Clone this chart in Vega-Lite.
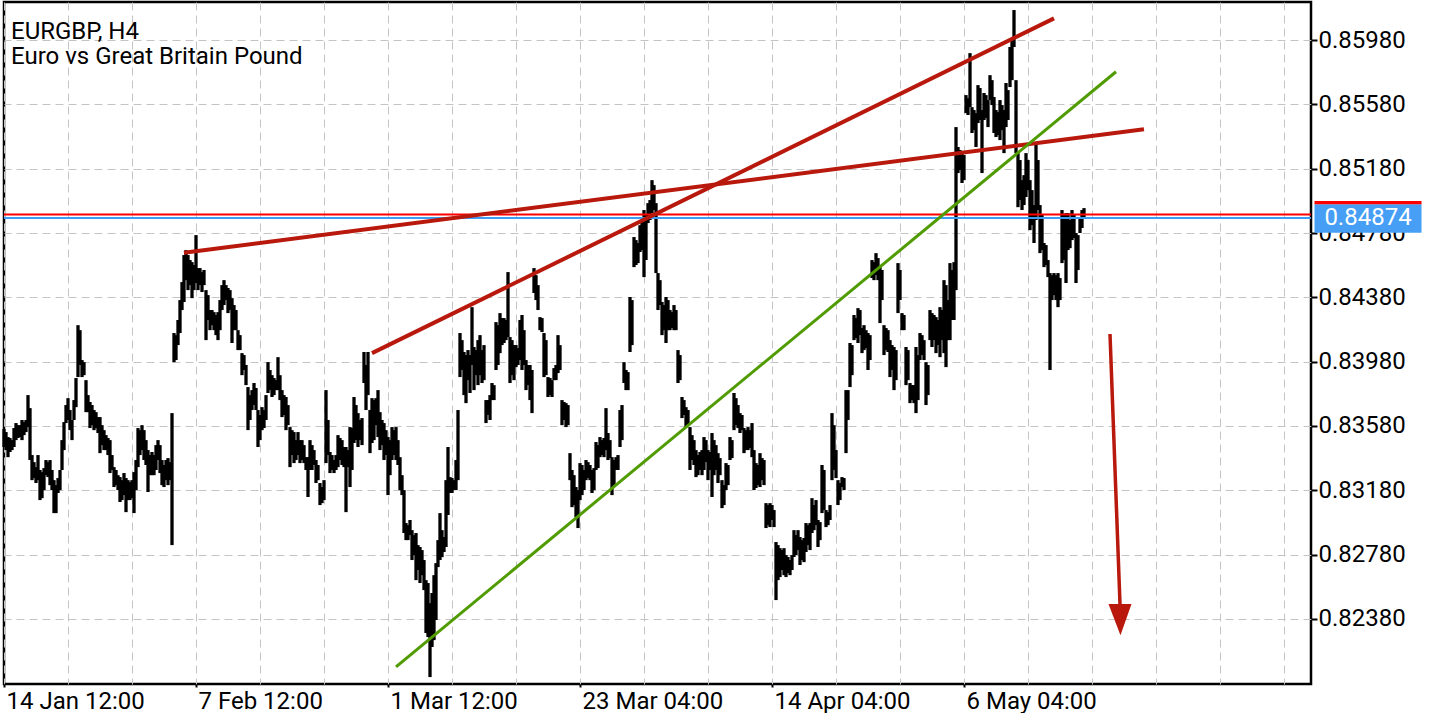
{
"$schema":"https://vega.github.io/schema/vega-lite/v6.json",
"width":1307,"height":682,
"padding":{"left":2,"top":2,"right":0,"bottom":0},
"background":"white",
"config":{"view":{"stroke":"black","strokeWidth":2.5},"font":"Roboto"},
"datasets":{
"bars":[
{"i":0,"h":0.83561,"l":0.83449},{"i":1,"h":0.83542,"l":0.8343},{"i":2,"h":0.83511,"l":0.83386},{"i":3,"h":0.83505,"l":0.83418},{"i":4,"h":0.83492,"l":0.8343},{"i":5,"h":0.83567,"l":0.83449},{"i":6,"h":0.83598,"l":0.83492},{"i":7,"h":0.83585,"l":0.83505},{"i":8,"h":0.83585,"l":0.83511},{"i":9,"h":0.83617,"l":0.83492},
{"i":10,"h":0.83604,"l":0.83523},{"i":11,"h":0.83617,"l":0.83542},{"i":12,"h":0.83772,"l":0.83573},{"i":13,"h":0.83691,"l":0.83368},{"i":14,"h":0.83399,"l":0.83243},{"i":15,"h":0.83355,"l":0.83256},{"i":16,"h":0.83324,"l":0.83225},{"i":17,"h":0.83399,"l":0.83243},{"i":18,"h":0.83306,"l":0.83119},{"i":19,"h":0.83293,"l":0.83131},
{"i":20,"h":0.83318,"l":0.83181},{"i":21,"h":0.83368,"l":0.83274},{"i":22,"h":0.83355,"l":0.83262},{"i":23,"h":0.83368,"l":0.83212},{"i":24,"h":0.83306,"l":0.83181},{"i":25,"h":0.83243,"l":0.83038},{"i":26,"h":0.83212,"l":0.83038},{"i":27,"h":0.83256,"l":0.83163},{"i":28,"h":0.83306,"l":0.83181},{"i":29,"h":0.83492,"l":0.83306},
{"i":30,"h":0.83604,"l":0.8343},{"i":31,"h":0.8371,"l":0.83598},{"i":32,"h":0.83753,"l":0.83617},{"i":33,"h":0.83679,"l":0.83554},{"i":34,"h":0.83617,"l":0.83492},{"i":35,"h":0.83741,"l":0.83617},{"i":36,"h":0.83878,"l":0.83697},{"i":37,"h":0.84207,"l":0.83884},{"i":38,"h":0.84176,"l":0.83959},{"i":39,"h":0.8399,"l":0.83884},
{"i":40,"h":0.83977,"l":0.83896},{"i":41,"h":0.83865,"l":0.83666},{"i":42,"h":0.83772,"l":0.83666},{"i":43,"h":0.83729,"l":0.83567},{"i":44,"h":0.8371,"l":0.83585},{"i":45,"h":0.83679,"l":0.83554},{"i":46,"h":0.83666,"l":0.83567},{"i":47,"h":0.83635,"l":0.83536},{"i":48,"h":0.83635,"l":0.83411},{"i":49,"h":0.83585,"l":0.83461},
{"i":50,"h":0.83554,"l":0.8343},{"i":51,"h":0.83523,"l":0.8343},{"i":52,"h":0.83505,"l":0.83399},{"i":53,"h":0.83492,"l":0.83287},{"i":54,"h":0.83399,"l":0.83306},{"i":55,"h":0.83324,"l":0.832},{"i":56,"h":0.83306,"l":0.83212},{"i":57,"h":0.83274,"l":0.83181},{"i":58,"h":0.83262,"l":0.83107},{"i":59,"h":0.83243,"l":0.83119},
{"i":60,"h":0.83287,"l":0.8315},{"i":61,"h":0.83256,"l":0.83044},{"i":62,"h":0.83243,"l":0.83119},{"i":63,"h":0.83231,"l":0.83119},{"i":64,"h":0.83243,"l":0.83131},{"i":65,"h":0.83293,"l":0.83038},{"i":66,"h":0.83368,"l":0.83181},{"i":67,"h":0.83567,"l":0.83324},{"i":68,"h":0.83554,"l":0.83399},{"i":69,"h":0.83585,"l":0.8343},
{"i":70,"h":0.83554,"l":0.83368},{"i":71,"h":0.83492,"l":0.83337},{"i":72,"h":0.8343,"l":0.83169},{"i":73,"h":0.83399,"l":0.83274},{"i":74,"h":0.83418,"l":0.83274},{"i":75,"h":0.83399,"l":0.83274},{"i":76,"h":0.83461,"l":0.83306},{"i":77,"h":0.83492,"l":0.83368},{"i":78,"h":0.83461,"l":0.83287},{"i":79,"h":0.83368,"l":0.83212},
{"i":80,"h":0.83337,"l":0.832},{"i":81,"h":0.83368,"l":0.83243},{"i":82,"h":0.8338,"l":0.83212},{"i":83,"h":0.83355,"l":0.83243},{"i":84,"h":0.8366,"l":0.82839},{"i":85,"h":0.84158,"l":0.83977},{"i":86,"h":0.84145,"l":0.8399},{"i":87,"h":0.84239,"l":0.84083},{"i":88,"h":0.84363,"l":0.84158},{"i":89,"h":0.84475,"l":0.84301},
{"i":90,"h":0.84643,"l":0.84351},{"i":91,"h":0.84674,"l":0.84487},{"i":92,"h":0.84643,"l":0.84425},{"i":93,"h":0.84612,"l":0.84456},{"i":94,"h":0.84599,"l":0.84375},{"i":95,"h":0.84581,"l":0.84425},{"i":96,"h":0.84767,"l":0.84469},{"i":97,"h":0.84562,"l":0.84425},{"i":98,"h":0.84562,"l":0.84456},{"i":99,"h":0.84537,"l":0.84413},
{"i":100,"h":0.8455,"l":0.84456},{"i":101,"h":0.84425,"l":0.84114},{"i":102,"h":0.84394,"l":0.84239},{"i":103,"h":0.84301,"l":0.84176},{"i":104,"h":0.84301,"l":0.84207},{"i":105,"h":0.84288,"l":0.84176},{"i":106,"h":0.8427,"l":0.84145},{"i":107,"h":0.84288,"l":0.84114},{"i":108,"h":0.84363,"l":0.84176},{"i":109,"h":0.84456,"l":0.84301},
{"i":110,"h":0.84487,"l":0.84332},{"i":111,"h":0.84456,"l":0.84363},{"i":112,"h":0.84438,"l":0.84282},{"i":113,"h":0.84425,"l":0.84301},{"i":114,"h":0.84375,"l":0.84096},{"i":115,"h":0.84332,"l":0.84176},{"i":116,"h":0.84301,"l":0.84176},{"i":117,"h":0.84176,"l":0.84052},{"i":118,"h":0.84145,"l":0.84052},{"i":119,"h":0.84033,"l":0.83896},
{"i":120,"h":0.84021,"l":0.83928},{"i":121,"h":0.83959,"l":0.83834},{"i":122,"h":0.83822,"l":0.83554},{"i":123,"h":0.83772,"l":0.83617},{"i":124,"h":0.83803,"l":0.83679},{"i":125,"h":0.83847,"l":0.8371},{"i":126,"h":0.83816,"l":0.83679},{"i":127,"h":0.83679,"l":0.83449},{"i":128,"h":0.83648,"l":0.83492},{"i":129,"h":0.83697,"l":0.83554},
{"i":130,"h":0.83679,"l":0.83567},{"i":131,"h":0.83772,"l":0.83617},{"i":132,"h":0.83977,"l":0.83785},{"i":133,"h":0.83928,"l":0.83803},{"i":134,"h":0.83896,"l":0.8376},{"i":135,"h":0.83878,"l":0.83772},{"i":136,"h":0.83865,"l":0.83803},{"i":137,"h":0.84008,"l":0.83803},{"i":138,"h":0.83896,"l":0.83741},{"i":139,"h":0.83803,"l":0.83635},
{"i":140,"h":0.83772,"l":0.83648},{"i":141,"h":0.8376,"l":0.83554},{"i":142,"h":0.8371,"l":0.83585},{"i":143,"h":0.83573,"l":0.83324},{"i":144,"h":0.83554,"l":0.83399},{"i":145,"h":0.83542,"l":0.83349},{"i":146,"h":0.83492,"l":0.83368},{"i":147,"h":0.83542,"l":0.83399},{"i":148,"h":0.83492,"l":0.83349},{"i":149,"h":0.83492,"l":0.83368},
{"i":150,"h":0.83461,"l":0.83349},{"i":151,"h":0.83386,"l":0.83306},{"i":152,"h":0.83386,"l":0.83138},{"i":153,"h":0.83492,"l":0.83306},{"i":154,"h":0.83461,"l":0.83306},{"i":155,"h":0.8343,"l":0.83337},{"i":156,"h":0.83368,"l":0.83225},{"i":157,"h":0.83337,"l":0.83243},{"i":158,"h":0.83225,"l":0.83088},{"i":159,"h":0.832,"l":0.831},
{"i":160,"h":0.83243,"l":0.83119},{"i":161,"h":0.83803,"l":0.83349},{"i":162,"h":0.83617,"l":0.83399},{"i":163,"h":0.83418,"l":0.83287},{"i":164,"h":0.83399,"l":0.83306},{"i":165,"h":0.83368,"l":0.83287},{"i":166,"h":0.83399,"l":0.83306},{"i":167,"h":0.83523,"l":0.83324},{"i":168,"h":0.83505,"l":0.83368},{"i":169,"h":0.83492,"l":0.83337},
{"i":170,"h":0.83449,"l":0.83324},{"i":171,"h":0.83449,"l":0.83044},{"i":172,"h":0.8343,"l":0.83324},{"i":173,"h":0.83573,"l":0.832},{"i":174,"h":0.83567,"l":0.83306},{"i":175,"h":0.8376,"l":0.83474},{"i":176,"h":0.8371,"l":0.83492},{"i":177,"h":0.8366,"l":0.83449},{"i":178,"h":0.83617,"l":0.83492},{"i":179,"h":0.83629,"l":0.83461},
{"i":180,"h":0.8404,"l":0.83847},{"i":181,"h":0.83959,"l":0.83679},{"i":182,"h":0.8404,"l":0.83772},{"i":183,"h":0.83679,"l":0.83411},{"i":184,"h":0.83753,"l":0.83474},{"i":185,"h":0.83741,"l":0.83492},{"i":186,"h":0.83753,"l":0.83585},{"i":187,"h":0.83803,"l":0.83511},{"i":188,"h":0.83666,"l":0.8343},{"i":189,"h":0.83617,"l":0.83461},
{"i":190,"h":0.83598,"l":0.83368},{"i":191,"h":0.83554,"l":0.83399},{"i":192,"h":0.83511,"l":0.8315},{"i":193,"h":0.83492,"l":0.83274},{"i":194,"h":0.83573,"l":0.83368},{"i":195,"h":0.83554,"l":0.83399},{"i":196,"h":0.83573,"l":0.83368},{"i":197,"h":0.83492,"l":0.83337},{"i":198,"h":0.83386,"l":0.83181},{"i":199,"h":0.83274,"l":0.8315},
{"i":200,"h":0.83181,"l":0.82914},{"i":201,"h":0.82976,"l":0.8287},{"i":202,"h":0.82963,"l":0.8287},{"i":203,"h":0.82995,"l":0.82901},{"i":204,"h":0.82932,"l":0.82746},{"i":205,"h":0.82901,"l":0.82777},{"i":206,"h":0.82914,"l":0.82621},{"i":207,"h":0.82839,"l":0.82684},{"i":208,"h":0.82827,"l":0.82603},{"i":209,"h":0.82808,"l":0.82652},
{"i":210,"h":0.82746,"l":0.82559},{"i":211,"h":0.82621,"l":0.82292},{"i":212,"h":0.82603,"l":0.82267},{"i":213,"h":0.82478,"l":0.82018},{"i":214,"h":0.82541,"l":0.82205},{"i":215,"h":0.82652,"l":0.82248},{"i":216,"h":0.82727,"l":0.82373},{"i":217,"h":0.8287,"l":0.82702},{"i":218,"h":0.83038,"l":0.82746},{"i":219,"h":0.82932,"l":0.82764},
{"i":220,"h":0.82889,"l":0.82796},{"i":221,"h":0.83243,"l":0.82827},{"i":222,"h":0.83449,"l":0.83026},{"i":223,"h":0.83262,"l":0.83163},{"i":224,"h":0.83256,"l":0.83163},{"i":225,"h":0.83243,"l":0.83181},{"i":226,"h":0.83368,"l":0.83181},{"i":227,"h":0.83679,"l":0.83243},{"i":228,"h":0.84158,"l":0.83884},{"i":229,"h":0.84114,"l":0.83928},
{"i":230,"h":0.8404,"l":0.83772},{"i":231,"h":0.84021,"l":0.83722},{"i":232,"h":0.84052,"l":0.83865},{"i":233,"h":0.84021,"l":0.83785},{"i":234,"h":0.84319,"l":0.83959},{"i":235,"h":0.84071,"l":0.83803},{"i":236,"h":0.84052,"l":0.83896},{"i":237,"h":0.84114,"l":0.83834},{"i":238,"h":0.84145,"l":0.83896},{"i":239,"h":0.84052,"l":0.83847},
{"i":240,"h":0.84083,"l":0.83865},{"i":241,"h":0.83741,"l":0.83598},{"i":242,"h":0.83741,"l":0.83648},{"i":243,"h":0.83772,"l":0.83617},{"i":244,"h":0.83847,"l":0.83741},{"i":245,"h":0.83834,"l":0.83741},{"i":246,"h":0.84226,"l":0.83928},{"i":247,"h":0.84207,"l":0.83959},{"i":248,"h":0.84282,"l":0.84033},{"i":249,"h":0.84251,"l":0.84083},
{"i":250,"h":0.84251,"l":0.84096},{"i":251,"h":0.84239,"l":0.84114},{"i":252,"h":0.84537,"l":0.84133},{"i":253,"h":0.84133,"l":0.83847},{"i":254,"h":0.84114,"l":0.83896},{"i":255,"h":0.84083,"l":0.83865},{"i":256,"h":0.84083,"l":0.83946},{"i":257,"h":0.84064,"l":0.83959},{"i":258,"h":0.84239,"l":0.8399},{"i":259,"h":0.8427,"l":0.83928},
{"i":260,"h":0.84176,"l":0.83959},{"i":261,"h":0.8399,"l":0.83803},{"i":262,"h":0.83959,"l":0.83834},{"i":263,"h":0.83959,"l":0.83741},{"i":264,"h":0.83928,"l":0.8366},{"i":265,"h":0.84562,"l":0.84407},{"i":266,"h":0.84518,"l":0.84363},{"i":267,"h":0.84456,"l":0.84301},{"i":268,"h":0.84257,"l":0.84176},{"i":269,"h":0.84251,"l":0.84164},
{"i":270,"h":0.84158,"l":0.83884},{"i":271,"h":0.84114,"l":0.83896},{"i":272,"h":0.83884,"l":0.8376},{"i":273,"h":0.83878,"l":0.83772},{"i":274,"h":0.83865,"l":0.8376},{"i":275,"h":0.8394,"l":0.83865},{"i":276,"h":0.83959,"l":0.83865},{"i":277,"h":0.84145,"l":0.83909},{"i":278,"h":0.84083,"l":0.83928},{"i":279,"h":0.83741,"l":0.83585},
{"i":280,"h":0.83729,"l":0.83617},{"i":281,"h":0.83722,"l":0.83573},{"i":282,"h":0.8371,"l":0.83585},{"i":283,"h":0.83411,"l":0.83243},{"i":284,"h":0.83306,"l":0.83075},{"i":285,"h":0.83274,"l":0.83088},{"i":286,"h":0.832,"l":0.83013},{"i":287,"h":0.83181,"l":0.82945},{"i":288,"h":0.83349,"l":0.83119},{"i":289,"h":0.83337,"l":0.8315},
{"i":290,"h":0.83306,"l":0.83181},{"i":291,"h":0.83368,"l":0.83243},{"i":292,"h":0.83355,"l":0.83256},{"i":293,"h":0.83337,"l":0.83243},{"i":294,"h":0.83306,"l":0.83163},{"i":295,"h":0.83318,"l":0.83181},{"i":296,"h":0.8348,"l":0.83306},{"i":297,"h":0.83461,"l":0.83318},{"i":298,"h":0.83511,"l":0.83386},{"i":299,"h":0.83492,"l":0.83399},
{"i":300,"h":0.83505,"l":0.83386},{"i":301,"h":0.83691,"l":0.8343},{"i":302,"h":0.83536,"l":0.83368},{"i":303,"h":0.83492,"l":0.8338},{"i":304,"h":0.83386,"l":0.8315},{"i":305,"h":0.83368,"l":0.83212},{"i":306,"h":0.83386,"l":0.83306},{"i":307,"h":0.83399,"l":0.83306},{"i":308,"h":0.83679,"l":0.83449},{"i":309,"h":0.8371,"l":0.83492},
{"i":310,"h":0.83977,"l":0.83847},{"i":311,"h":0.83928,"l":0.83803},{"i":312,"h":0.83915,"l":0.83803},{"i":313,"h":0.84382,"l":0.8404},{"i":314,"h":0.84363,"l":0.84083},{"i":315,"h":0.84755,"l":0.84568},{"i":316,"h":0.84736,"l":0.84581},{"i":317,"h":0.84718,"l":0.84593},{"i":318,"h":0.84829,"l":0.84662},{"i":319,"h":0.84848,"l":0.84674},
{"i":320,"h":0.84923,"l":0.84506},{"i":321,"h":0.84892,"l":0.84612},{"i":322,"h":0.84966,"l":0.84842},{"i":323,"h":0.84985,"l":0.84861},{"i":324,"h":0.85109,"l":0.84904},{"i":325,"h":0.85078,"l":0.84923},{"i":326,"h":0.84966,"l":0.84531},{"i":327,"h":0.84531,"l":0.84301},{"i":328,"h":0.84487,"l":0.84332},{"i":329,"h":0.84351,"l":0.84145},
{"i":330,"h":0.84332,"l":0.84176},{"i":331,"h":0.84382,"l":0.84096},{"i":332,"h":0.84363,"l":0.84176},{"i":333,"h":0.84301,"l":0.84176},{"i":334,"h":0.84288,"l":0.84189},{"i":335,"h":0.84332,"l":0.84176},{"i":336,"h":0.84301,"l":0.84176},{"i":337,"h":0.84052,"l":0.83847},{"i":338,"h":0.84021,"l":0.83865},{"i":339,"h":0.8376,"l":0.83629},
{"i":340,"h":0.83741,"l":0.83648},{"i":341,"h":0.83697,"l":0.83573},{"i":342,"h":0.83679,"l":0.83585},{"i":343,"h":0.83573,"l":0.83306},{"i":344,"h":0.83523,"l":0.83368},{"i":345,"h":0.83492,"l":0.83337},{"i":346,"h":0.8343,"l":0.83262},{"i":347,"h":0.83399,"l":0.83274},{"i":348,"h":0.83418,"l":0.83306},{"i":349,"h":0.8343,"l":0.83274},
{"i":350,"h":0.83511,"l":0.83306},{"i":351,"h":0.83492,"l":0.83355},{"i":352,"h":0.8343,"l":0.83243},{"i":353,"h":0.83418,"l":0.83306},{"i":354,"h":0.83536,"l":0.83138},{"i":355,"h":0.83492,"l":0.83274},{"i":356,"h":0.83461,"l":0.83306},{"i":357,"h":0.83411,"l":0.83225},{"i":358,"h":0.8338,"l":0.83274},{"i":359,"h":0.83243,"l":0.83069},
{"i":360,"h":0.83212,"l":0.83088},{"i":361,"h":0.83349,"l":0.83181},{"i":362,"h":0.83337,"l":0.83212},{"i":363,"h":0.83511,"l":0.83368},{"i":364,"h":0.83492,"l":0.8338},{"i":365,"h":0.83785,"l":0.83554},{"i":366,"h":0.83753,"l":0.83585},{"i":367,"h":0.8371,"l":0.83567},{"i":368,"h":0.8366,"l":0.83536},{"i":369,"h":0.83648,"l":0.83554},
{"i":370,"h":0.83567,"l":0.83411},{"i":371,"h":0.83554,"l":0.8343},{"i":372,"h":0.83573,"l":0.8343},{"i":373,"h":0.83554,"l":0.83442},{"i":374,"h":0.83598,"l":0.83386},{"i":375,"h":0.8343,"l":0.83181},{"i":376,"h":0.83349,"l":0.83194},{"i":377,"h":0.83337,"l":0.83212},{"i":378,"h":0.83411,"l":0.832},{"i":379,"h":0.8338,"l":0.83243},
{"i":380,"h":0.83368,"l":0.83212},{"i":381,"h":0.831,"l":0.82945},{"i":382,"h":0.83088,"l":0.82963},{"i":383,"h":0.831,"l":0.82951},{"i":384,"h":0.83088,"l":0.82995},{"i":385,"h":0.83057,"l":0.82951},{"i":386,"h":0.82858,"l":0.82497},{"i":387,"h":0.82839,"l":0.82621},{"i":388,"h":0.8282,"l":0.8264},{"i":389,"h":0.82808,"l":0.82684},
{"i":390,"h":0.8282,"l":0.82652},{"i":391,"h":0.82777,"l":0.8264},{"i":392,"h":0.82765,"l":0.82665},{"i":393,"h":0.82746,"l":0.82652},{"i":394,"h":0.82777,"l":0.82684},{"i":395,"h":0.82932,"l":0.82765},{"i":396,"h":0.82901,"l":0.82777},{"i":397,"h":0.82932,"l":0.82808},{"i":398,"h":0.82889,"l":0.82715},{"i":399,"h":0.8287,"l":0.82746},
{"i":400,"h":0.82883,"l":0.82733},{"i":401,"h":0.82976,"l":0.82796},{"i":402,"h":0.82963,"l":0.82839},{"i":403,"h":0.82976,"l":0.82808},{"i":404,"h":0.83131,"l":0.82914},{"i":405,"h":0.83088,"l":0.82932},{"i":406,"h":0.83119,"l":0.82963},{"i":407,"h":0.82995,"l":0.82827},{"i":408,"h":0.82982,"l":0.8287},{"i":409,"h":0.83337,"l":0.83038},
{"i":410,"h":0.83306,"l":0.83057},{"i":411,"h":0.83057,"l":0.82951},{"i":412,"h":0.83044,"l":0.82963},{"i":413,"h":0.83088,"l":0.82995},{"i":414,"h":0.8366,"l":0.83243},{"i":415,"h":0.83585,"l":0.83306},{"i":416,"h":0.8343,"l":0.83256},{"i":417,"h":0.83243,"l":0.83088},{"i":418,"h":0.83225,"l":0.83119},{"i":419,"h":0.83262,"l":0.832},
{"i":420,"h":0.83256,"l":0.83181},{"i":421,"h":0.83803,"l":0.83411},{"i":422,"h":0.83803,"l":0.83617},{"i":423,"h":0.84096,"l":0.83822},{"i":424,"h":0.84083,"l":0.83896},{"i":425,"h":0.8427,"l":0.84114},{"i":426,"h":0.84251,"l":0.84127},{"i":427,"h":0.84313,"l":0.84096},{"i":428,"h":0.84301,"l":0.84145},{"i":429,"h":0.84189,"l":0.84033},
{"i":430,"h":0.84207,"l":0.84052},{"i":431,"h":0.84176,"l":0.84064},{"i":432,"h":0.84158,"l":0.83928},{"i":433,"h":0.84145,"l":0.8399},{"i":434,"h":0.84612,"l":0.845},{"i":435,"h":0.84599,"l":0.84487},{"i":436,"h":0.84655,"l":0.84518},{"i":437,"h":0.84624,"l":0.84487},{"i":438,"h":0.84568,"l":0.8422},{"i":439,"h":0.8455,"l":0.84363},
{"i":440,"h":0.84207,"l":0.84021},{"i":441,"h":0.84189,"l":0.84052},{"i":442,"h":0.84176,"l":0.8404},{"i":443,"h":0.84114,"l":0.83884},{"i":444,"h":0.84083,"l":0.83928},{"i":445,"h":0.84071,"l":0.83803},{"i":446,"h":0.84052,"l":0.83865},{"i":447,"h":0.84593,"l":0.84282},{"i":448,"h":0.8455,"l":0.84363},{"i":449,"h":0.84282,"l":0.84176},
{"i":450,"h":0.8427,"l":0.84176},{"i":451,"h":0.84071,"l":0.83834},{"i":452,"h":0.84052,"l":0.83865},{"i":453,"h":0.83847,"l":0.83722},{"i":454,"h":0.83834,"l":0.83741},{"i":455,"h":0.83834,"l":0.83722},{"i":456,"h":0.84071,"l":0.8366},{"i":457,"h":0.84021,"l":0.83741},{"i":458,"h":0.84158,"l":0.8399},{"i":459,"h":0.84145,"l":0.84021},
{"i":460,"h":0.84114,"l":0.8399},{"i":461,"h":0.83977,"l":0.8371},{"i":462,"h":0.83959,"l":0.83772},{"i":463,"h":0.84301,"l":0.84114},{"i":464,"h":0.84282,"l":0.84071},{"i":465,"h":0.8427,"l":0.84114},{"i":466,"h":0.84257,"l":0.84033},{"i":467,"h":0.84239,"l":0.84083},{"i":468,"h":0.84319,"l":0.84008},{"i":469,"h":0.84301,"l":0.84114},
{"i":470,"h":0.84487,"l":0.84033},{"i":471,"h":0.84456,"l":0.83946},{"i":472,"h":0.84363,"l":0.84114},{"i":473,"h":0.84593,"l":0.84114},{"i":474,"h":0.8455,"l":0.84239},{"i":475,"h":0.84599,"l":0.84239},{"i":476,"h":0.85439,"l":0.84425},{"i":477,"h":0.85315,"l":0.85153},{"i":478,"h":0.85296,"l":0.85172},{"i":479,"h":0.85277,"l":0.85091},
{"i":480,"h":0.85265,"l":0.85109},{"i":481,"h":0.85638,"l":0.85526},{"i":482,"h":0.85619,"l":0.85514},{"i":483,"h":0.85899,"l":0.85563},{"i":484,"h":0.85563,"l":0.85402},{"i":485,"h":0.85545,"l":0.8542},{"i":486,"h":0.85526,"l":0.85315},{"i":487,"h":0.857,"l":0.85464},{"i":488,"h":0.85682,"l":0.85483},{"i":489,"h":0.85545,"l":0.85153},
{"i":490,"h":0.85651,"l":0.85483},{"i":491,"h":0.85638,"l":0.85495},{"i":492,"h":0.85607,"l":0.85439},{"i":493,"h":0.85762,"l":0.85607},{"i":494,"h":0.85731,"l":0.85576},{"i":495,"h":0.85626,"l":0.85402},{"i":496,"h":0.85545,"l":0.85377},{"i":497,"h":0.85532,"l":0.85389},{"i":498,"h":0.85607,"l":0.85358},{"i":499,"h":0.85576,"l":0.8542},
{"i":500,"h":0.85545,"l":0.85277},{"i":501,"h":0.85713,"l":0.85439},{"i":502,"h":0.85669,"l":0.85483},{"i":503,"h":0.85937,"l":0.85688},{"i":504,"h":0.8598,"l":0.85731},{"i":505,"h":0.86167,"l":0.85937},{"i":506,"h":0.85731,"l":0.85277},{"i":507,"h":0.85277,"l":0.84941},{"i":508,"h":0.85234,"l":0.84985},{"i":509,"h":0.85109,"l":0.84923},
{"i":510,"h":0.8514,"l":0.84954},{"i":511,"h":0.85277,"l":0.85004},{"i":512,"h":0.85234,"l":0.85047},{"i":513,"h":0.85109,"l":0.84798},{"i":514,"h":0.85047,"l":0.84829},{"i":515,"h":0.84954,"l":0.84718},{"i":516,"h":0.8534,"l":0.84861},{"i":517,"h":0.85234,"l":0.84923},{"i":518,"h":0.84954,"l":0.84655},{"i":519,"h":0.84892,"l":0.84674},
{"i":520,"h":0.84718,"l":0.84568},{"i":521,"h":0.84705,"l":0.84581},{"i":522,"h":0.84612,"l":0.84506},{"i":523,"h":0.84531,"l":0.83928},{"i":524,"h":0.84518,"l":0.84363},{"i":525,"h":0.84531,"l":0.84394},{"i":526,"h":0.84518,"l":0.84363},{"i":527,"h":0.84531,"l":0.84319},{"i":528,"h":0.845,"l":0.84363},{"i":529,"h":0.84923,"l":0.84593},
{"i":530,"h":0.84892,"l":0.84612},{"i":531,"h":0.84904,"l":0.84469},{"i":532,"h":0.84904,"l":0.84674},{"i":533,"h":0.84861,"l":0.84686},{"i":534,"h":0.84923,"l":0.84736},{"i":535,"h":0.84892,"l":0.84749},{"i":536,"h":0.8478,"l":0.84469},{"i":537,"h":0.84767,"l":0.8455},{"i":538,"h":0.84879,"l":0.8478},{"i":539,"h":0.84923,"l":0.84811},
{"i":540,"h":0.84935,"l":0.84874}
],
"trend":[
{"line":"resistance 1","i1":90,"p1":0.84658,"i2":570,"p2":0.85425},
{"line":"resistance 2","i1":184,"p1":0.84033,"i2":525,"p2":0.86115},
{"line":"support","i1":196,"p1":0.82082,"i2":556,"p2":0.85783}
],
"arrow":[{"i1":553,"p1":0.84152,"i2":558,"p2":0.82472}],
"quote":[{"i":682,"bid":0.84874,"ask":0.84896}]
},
"layer":[
{"data":{"name":"bars"},"mark":{"type":"rule","color":"black","strokeWidth":3.3},
 "encoding":{
  "x":{"field":"i","type":"quantitative","scale":{"domain":[0,653.5],"nice":false,"zero":false},
   "axis":{"values":[0,32,64,96,128,160,192,224,256,288,320,352,384,416,448,480,512,544,576,608,640],
    "labelExpr":"datum.value == 0 ? '14 Jan 12:00' : datum.value == 96 ? '7 Feb 12:00' : datum.value == 192 ? '1 Mar 12:00' : datum.value == 288 ? '23 Mar 04:00' : datum.value == 384 ? '14 Apr 04:00' : datum.value == 480 ? '6 May 04:00' : ''",
    "title":null,"grid":true,"gridColor":"#c4c4c4","gridDash":[8,5],"gridWidth":1,"domain":false,
    "tickColor":{"condition":{"test":"datum.value % 96 === 0 && datum.value <= 480","value":"black"},"value":"transparent"},
    "tickSize":3,"tickWidth":2,"labelAlign":"left","labelBaseline":"top","labelPadding":2,"labelOffset":2,
    "labelFont":"Roboto","labelFontSize":24,"labelColor":"black","labelOverlap":false,"labelFlush":false,"labelBound":false}},
  "y":{"field":"l","type":"quantitative","scale":{"domain":[0.81975,0.86217],"nice":false,"zero":false},
   "axis":{"orient":"right","values":[0.8238,0.8278,0.8318,0.8358,0.8398,0.8438,0.8478,0.8518,0.8558,0.8598],"format":".5f",
    "title":null,"grid":true,"gridColor":"#c4c4c4","gridDash":[8,5],"gridWidth":1,"domain":false,
    "tickColor":"black","tickSize":6,"tickWidth":2,"labelPadding":1,"labelBaseline":"middle",
    "labelFont":"Roboto","labelFontSize":24,"labelColor":"black","labelOverlap":false,"labelBound":false}},
  "y2":{"field":"h"}}},
{"data":{"name":"quote"},"mark":{"type":"rule","color":"#3f9cf2","strokeWidth":2},
 "encoding":{"y":{"field":"bid","type":"quantitative","title":null}}},
{"data":{"name":"quote"},"mark":{"type":"rule","color":"#ff0000","strokeWidth":2},
 "encoding":{"y":{"field":"ask","type":"quantitative","title":null}}},
{"data":{"name":"trend"},"transform":[{"filter":"datum.line !== 'support'"}],"mark":{"type":"rule","color":"#b8190c","strokeWidth":4,"strokeCap":"butt"},
 "encoding":{"x":{"field":"i1","type":"quantitative","title":null},"x2":{"field":"i2"},
  "y":{"field":"p1","type":"quantitative","title":null},"y2":{"field":"p2"}}},
{"data":{"name":"trend"},"transform":[{"filter":"datum.line === 'support'"}],"mark":{"type":"rule","color":"#4f9b00","strokeWidth":3,"strokeCap":"butt"},
 "encoding":{"x":{"field":"i1","type":"quantitative","title":null},"x2":{"field":"i2"},
  "y":{"field":"p1","type":"quantitative","title":null},"y2":{"field":"p2"}}},
{"data":{"name":"arrow"},"mark":{"type":"rule","color":"#b8190c","strokeWidth":3.5,"strokeCap":"butt"},
 "encoding":{"x":{"field":"i1","type":"quantitative","title":null},"x2":{"field":"i2"},
  "y":{"field":"p1","type":"quantitative","title":null},"y2":{"field":"p2"}}},
{"data":{"name":"arrow"},"mark":{"type":"point","shape":"M-1,0L1,0L0.04,2.7Z","size":529,"filled":true,"color":"#b8190c","opacity":1,"strokeWidth":0},
 "encoding":{"x":{"field":"i2","type":"quantitative","title":null},
  "y":{"field":"p2","type":"quantitative","title":null}}},
{"data":{"name":"quote"},"mark":{"type":"point","shape":"M-1,-0.254L1,-0.254L1,0.277L-1,0.277Z","size":11449,"filled":true,"color":"#469ef5","opacity":1,"strokeWidth":0},
 "encoding":{"x":{"field":"i","type":"quantitative","title":null},
  "y":{"field":"bid","type":"quantitative","title":null}}},
{"data":{"name":"quote"},"mark":{"type":"point","shape":"M-1,-0.316L1,-0.316L1,-0.254L-1,-0.254Z","size":11449,"filled":true,"color":"#ff0000","opacity":1,"strokeWidth":0},
 "encoding":{"x":{"field":"i","type":"quantitative","title":null},
  "y":{"field":"bid","type":"quantitative","title":null}}},
{"data":{"name":"quote"},"mark":{"type":"text","color":"white","font":"Roboto","fontSize":24,"align":"center","baseline":"middle"},
 "encoding":{"x":{"field":"i","type":"quantitative","title":null},
  "y":{"field":"bid","type":"quantitative","title":null},
  "text":{"field":"bid","type":"quantitative","format":".5f"}}},
{"data":{"values":[{}]},"mark":{"type":"text","color":"black","font":"Roboto","fontSize":24,"align":"left","baseline":"alphabetic"},
 "encoding":{"x":{"datum":3.5,"type":"quantitative"},"y":{"datum":0.85988,"type":"quantitative"},"text":{"value":"EURGBP, H4"}}},
{"data":{"values":[{}]},"mark":{"type":"text","color":"black","font":"Roboto","fontSize":24,"align":"left","baseline":"alphabetic"},
 "encoding":{"x":{"datum":3.5,"type":"quantitative"},"y":{"datum":0.85831,"type":"quantitative"},"text":{"value":"Euro vs Great Britain Pound"}}}
]
}
